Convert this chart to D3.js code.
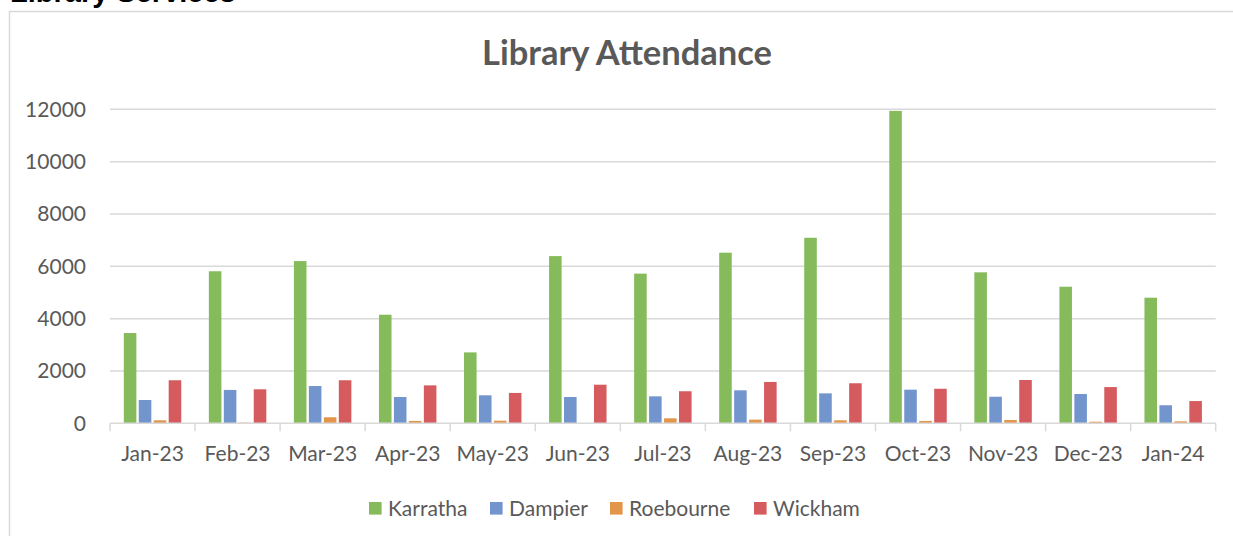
<!DOCTYPE html>
<html>
<head>
<meta charset="utf-8">
<script src="https://cdn.jsdelivr.net/npm/d3@7"></script>
<style>
  body { margin: 0; background: #fff; }
  svg { display: block; }
</style>
</head>
<body>
<script>
var width = 1233;
var height = 536;

// data
var months = ["Jan-23", "Feb-23", "Mar-23", "Apr-23", "May-23", "Jun-23", "Jul-23",
              "Aug-23", "Sep-23", "Oct-23", "Nov-23", "Dec-23", "Jan-24"];
var karratha  = [3450, 5810, 6200, 4150, 2710, 6390, 5720, 6520, 7090, 11940, 5770, 5220, 4800];
var dampier   = [890, 1275, 1425, 1005, 1070, 1005, 1030, 1260, 1145, 1285, 1015, 1120, 690];
var roebourne = [115, 25, 230, 90, 100, 0, 190, 140, 115, 90, 125, 60, 75];
var wickham   = [1645, 1300, 1645, 1450, 1160, 1475, 1225, 1580, 1530, 1320, 1655, 1385, 850];
var seriesNames = ["Karratha", "Dampier", "Roebourne", "Wickham"];
var colors = ["#86bb5c", "#7395cd", "#e3954a", "#d55b5e"];
var yTicks = [0, 2000, 4000, 6000, 8000, 10000, 12000];

var seriesValues = [karratha, dampier, roebourne, wickham];

var textColor = "#595959";
var gridColor = "#d9d9d9";
var font = "Lato, 'Liberation Sans', sans-serif";

var svg = d3.select("body")
  .append("svg")
  .attr("width", width)
  .attr("height", height);

// page heading, cut off at the top like in the original page
svg.append("text")
  .attr("x", 10)
  .attr("y", 2)
  .attr("font-family", "'Liberation Sans', Arial, sans-serif")
  .attr("font-weight", "bold")
  .attr("font-size", 29)
  .attr("fill", "#000")
  .text("Library Services");

// chart frame
svg.append("rect")
  .attr("x", 9.5)
  .attr("y", 11.5)
  .attr("width", width + 20)
  .attr("height", height + 20)
  .attr("fill", "none")
  .attr("stroke", gridColor)
  .attr("stroke-width", 1.5);

// title
svg.append("text")
  .attr("x", 627)
  .attr("y", 65)
  .attr("text-anchor", "middle")
  .attr("font-family", font)
  .attr("font-weight", "bold")
  .attr("font-size", 34.5)
  .attr("fill", textColor)
  .text("Library Attendance");

var x0 = d3.scaleBand()
  .domain(months)
  .range([110, 1215.7]);

var x1 = d3.scaleBand()
  .domain(seriesNames)
  .range([12.6, x0.bandwidth() - 12.6]);

var y = d3.scaleLinear()
  .domain([0, 12000])
  .range([423.3, 109.3]);

// gridlines
svg.append("g")
  .selectAll("line")
  .data(yTicks.slice(1))
  .enter()
  .append("line")
  .attr("x1", x0.range()[0])
  .attr("x2", x0.range()[1])
  .attr("y1", d => y(d))
  .attr("y2", d => y(d))
  .attr("stroke", gridColor)
  .attr("stroke-width", 1.5);

// y labels
svg.append("g")
  .selectAll("text")
  .data(yTicks)
  .enter()
  .append("text")
  .attr("x", 86)
  .attr("y", d => y(d) + 7.5)
  .attr("text-anchor", "end")
  .attr("font-family", font)
  .attr("font-size", 21)
  .attr("fill", textColor)
  .text(d => d);

// bars
var groups = svg.append("g")
  .selectAll("g")
  .data(months)
  .enter()
  .append("g")
  .attr("transform", d => "translate(" + x0(d) + ",0)");

groups.selectAll("rect")
  .data((d, i) => seriesNames.map((s, j) => ({series: s, idx: j, value: seriesValues[j][i]})))
  .enter()
  .append("rect")
  .attr("x", d => x1(d.series) + 1.2)
  .attr("width", x1.bandwidth() - 2.4)
  .attr("y", d => y(d.value))
  .attr("height", d => y(0) - y(d.value))
  .attr("fill", d => colors[d.idx]);

// x axis line + ticks between categories
svg.append("line")
  .attr("x1", x0.range()[0])
  .attr("x2", x0.range()[1])
  .attr("y1", y(0))
  .attr("y2", y(0))
  .attr("stroke", gridColor)
  .attr("stroke-width", 1.5);

svg.append("g")
  .selectAll("line")
  .data(months.concat(["end"]))
  .enter()
  .append("line")
  .attr("x1", (d, i) => i < months.length ? x0(d) : x0.range()[1])
  .attr("x2", (d, i) => i < months.length ? x0(d) : x0.range()[1])
  .attr("y1", y(0))
  .attr("y2", y(0) + 8)
  .attr("stroke", gridColor)
  .attr("stroke-width", 1.5);

svg.append("g")
  .selectAll("text")
  .data(months)
  .enter()
  .append("text")
  .attr("x", d => x0(d) + x0.bandwidth() / 2)
  .attr("y", 461)
  .attr("text-anchor", "middle")
  .attr("font-family", font)
  .attr("font-size", 21)
  .attr("fill", textColor)
  .text(d => d);

// legend
var legendX = [369, 490, 610, 754];
var legend = svg.append("g")
  .selectAll("g")
  .data(seriesNames)
  .enter()
  .append("g")
  .attr("transform", (d, i) => "translate(" + legendX[i] + ",502)");

legend.append("rect")
  .attr("width", 12.6)
  .attr("height", 12.6)
  .attr("fill", (d, i) => colors[i]);

legend.append("text")
  .attr("x", 19)
  .attr("y", 13.5)
  .attr("font-family", font)
  .attr("font-size", 21)
  .attr("fill", textColor)
  .text(d => d);
</script>
</body>
</html>
